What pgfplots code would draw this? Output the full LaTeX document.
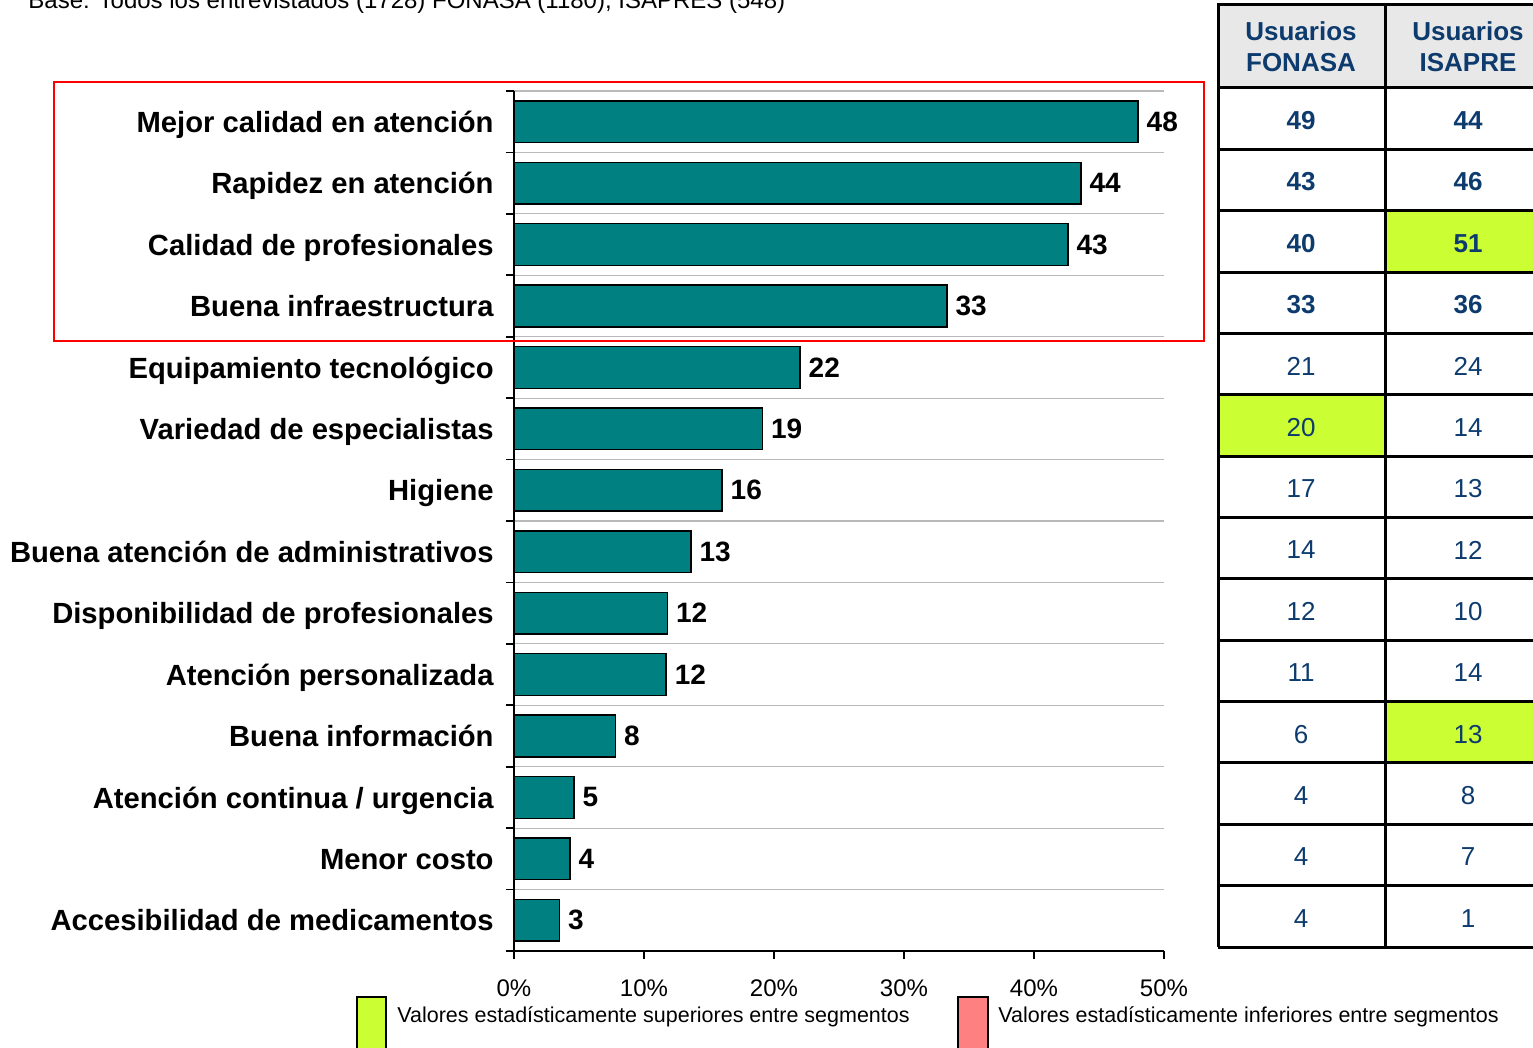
\documentclass[border=0pt]{standalone}
\usepackage{pgfplots}
\pgfplotsset{compat=1.18}
\usepackage{fontspec}
\setmainfont{Liberation Sans}
\definecolor{barteal}{HTML}{008080}
\definecolor{hiGreen}{HTML}{CCFF33}
\definecolor{loPink}{HTML}{FF8080}
\definecolor{tabBlue}{HTML}{0D3B6E}
\definecolor{headGray}{HTML}{E8E8E8}
\begin{document}
\begin{tikzpicture}
\path[use as bounding box, clip] (0,0) rectangle (766.5pt,-524pt);
\begin{axis}[
    at={(257pt,-475.5pt)}, anchor=south west,
    width=325pt, height=430pt, scale only axis,
    xbar, bar width=0.68,
    xmin=0, xmax=50, ymin=-0.5, ymax=13.5,
    axis x line*=bottom, axis y line*=left,
    axis line style={black, line width=0.8pt},
    tick align=outside,
    major tick length=4pt,
    tick style={black, line width=0.8pt},
    xtick={0,10,...,50},
    xticklabel={\pgfmathprintnumber{\tick}\%},
    xticklabel style={font=\fontsize{12}{14}\selectfont, inner sep=0pt, yshift=-10pt},
    /pgf/number format/assume math mode=true,
    ytick={-0.5,0.5,...,13.5},
    yticklabels={},
    ymajorgrids=true,
    major grid style={gray!55, line width=0.6pt},
    extra y ticks={0,...,13},
    extra y tick labels={Accesibilidad de medicamentos, Menor costo, Atención continua / urgencia, Buena información, Atención personalizada, Disponibilidad de profesionales, Buena atención de administrativos, Higiene, Variedad de especialistas, Equipamiento tecnológico, Buena infraestructura, Calidad de profesionales, Rapidez en atención, Mejor calidad en atención},
    extra y tick style={major tick length=0pt, grid=none,
        yticklabel style={font=\bfseries\fontsize{14.6}{17}\selectfont, anchor=base east, inner sep=0pt, xshift=-10pt, yshift=-5.3pt}},
    clip=false,
]
\addplot[fill=barteal, draw=black, line width=0.75pt,
    nodes near coords, point meta=explicit symbolic,
    nodes near coords style={font=\bfseries\fontsize{14}{16}\selectfont, anchor=west, inner sep=0pt, xshift=4pt, black}]
table[meta=lab] {
x y lab
48.0 13 48
43.6 12 44
42.6 11 43
33.3 10 33
22.0 9 22
19.1 8 19
16.0 7 16
13.6 6 13
11.8 5 12
11.7 4 12
7.8 3 8
4.6 2 5
4.3 1 4
3.5 0 3
};
\end{axis}
\begin{scope}[x=0.5pt, y=-0.5pt]
% subtitle, cut off at the top
\node[anchor=base west, inner sep=0pt, font=\fontsize{12}{14}\selectfont] at (28,9)
  {Base: Todos los entrevistados (1728) FONASA (1180), ISAPRES (548)};
% red frame round the top four items
\draw[red, line width=1pt] (54,82) rectangle (1204,341);
% table
\fill[headGray] (1218,5) rectangle (1560,88);
\fill[hiGreen] (1385,211.1) rectangle (1560,272.4);
\fill[hiGreen] (1218,395.2) rectangle (1385,456.5);
\fill[hiGreen] (1385,702.0) rectangle (1560,763.4);
\foreach \i in {0,...,14} {
  \draw[black, line width=1.5pt] (1218,88+\i*61.36) -- (1560,88+\i*61.36);
}
\draw[black, line width=1.5pt] (1560,5) -- (1218,5) -- (1218,947);
\draw[black, line width=1.5pt] (1385,5) -- (1385,947);
\node[align=center, text=tabBlue, font=\bfseries\fontsize{13}{15.5}\selectfont] at (1301,47) {Usuarios\\FONASA};
\node[align=center, text=tabBlue, font=\bfseries\fontsize{13}{15.5}\selectfont] at (1468,47) {Usuarios\\ISAPRE};
\foreach \f/\s [count=\i from 0] in {49/44,43/46,40/51,33/36} {
  \node[text=tabBlue, font=\bfseries\fontsize{13}{15}\selectfont] at (1301,120.5+\i*61.36) {\f};
  \node[text=tabBlue, font=\bfseries\fontsize{13}{15}\selectfont] at (1468,120.5+\i*61.36) {\s};
}
\foreach \f/\s [count=\i from 4] in {21/24,20/14,17/13,14/12,12/10,11/14,6/13,4/8,4/7,4/1} {
  \node[text=tabBlue, font=\fontsize{13}{15}\selectfont] at (1301,120.5+\i*61.36) {\f};
  \node[text=tabBlue, font=\fontsize{13}{15}\selectfont] at (1468,120.5+\i*61.36) {\s};
}
% legend
\draw[black, line width=1pt, fill=hiGreen] (357,997) rectangle (386,1060);
\node[anchor=base west, inner sep=0pt, font=\fontsize{10.75}{12}\selectfont] at (397,1022)
  {Valores estadísticamente superiores entre segmentos};
\draw[black, line width=1pt, fill=loPink] (958,997) rectangle (988,1060);
\node[anchor=base west, inner sep=0pt, font=\fontsize{10.75}{12}\selectfont] at (998,1022)
  {Valores estadísticamente inferiores entre segmentos};
\end{scope}
\end{tikzpicture}
\end{document}
